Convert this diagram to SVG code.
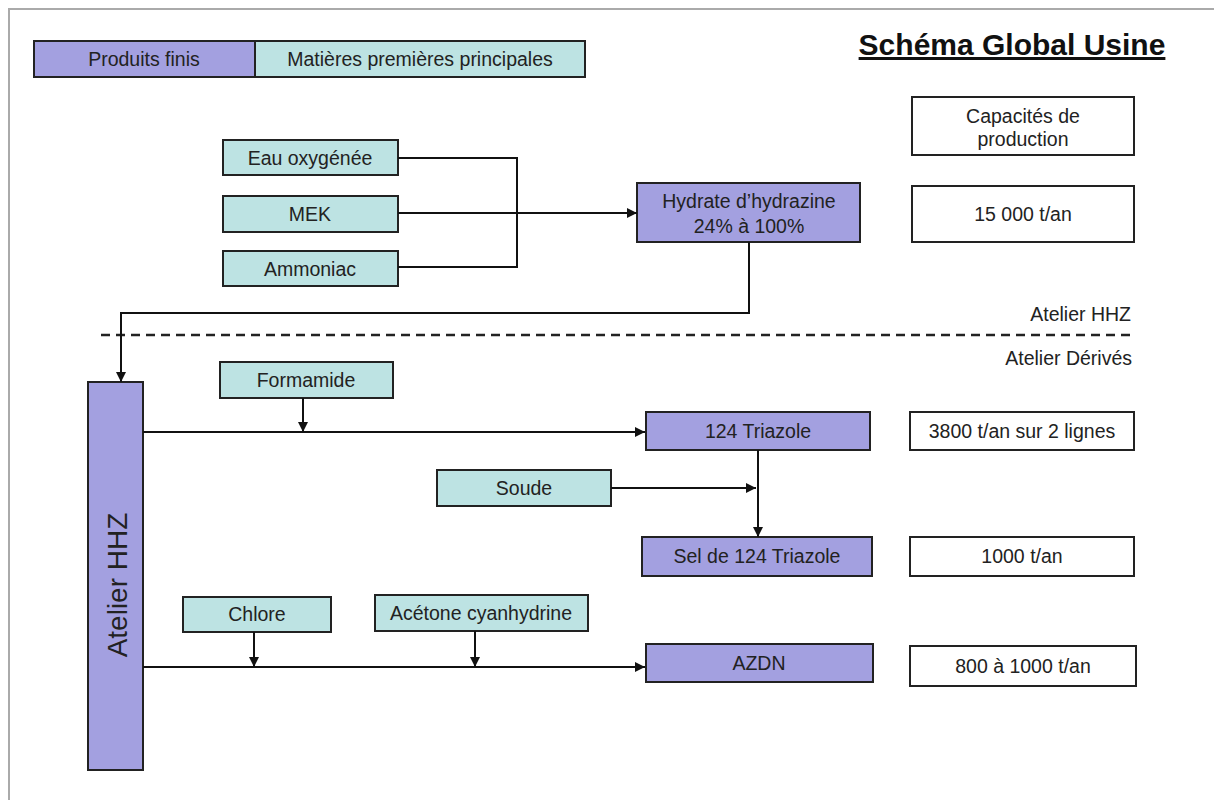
<svg xmlns="http://www.w3.org/2000/svg" width="1214" height="800" viewBox="0 0 1214 800">
<style>
  .prod { fill: #a3a0e0; stroke: #222; stroke-width: 2; }
  .mat { fill: #bde3e3; stroke: #222; stroke-width: 2; }
  .cap { fill: #ffffff; stroke: #222; stroke-width: 2; }
  .lbl { font-family: "Liberation Sans", Arial, sans-serif; font-size: 19.5px; fill: #222; text-anchor: middle; }
  .side { font-family: "Liberation Sans", Arial, sans-serif; font-size: 19.5px; fill: #222; text-anchor: end; }
  .conn { fill: none; stroke: #111; stroke-width: 2; }
</style>
<defs>
  <marker id="arr" viewBox="0 0 10 10" refX="10" refY="5" markerWidth="10" markerHeight="10" markerUnits="userSpaceOnUse" orient="auto">
    <path d="M0,0 L10,5 L0,10 z" fill="#111"/>
  </marker>
</defs>
<rect width="1214" height="800" fill="#ffffff"/>
<!-- frame -->
<path d="M9,800 V9 H1214" fill="none" stroke="#aaa" stroke-width="2"/>

<!-- legend -->
<g id="legend-produits">
  <rect class="prod" x="34" y="41" width="221" height="36"/>
  <text class="lbl" x="144" y="66">Produits finis</text>
</g>
<g id="legend-matieres">
  <rect class="mat" x="255" y="41" width="330" height="36"/>
  <text class="lbl" x="420" y="66">Matières premières principales</text>
</g>

<!-- title -->
<text id="title" x="1012" y="55" font-family="Liberation Sans, Arial, sans-serif" font-size="30" font-weight="bold" text-anchor="middle" text-decoration="underline" fill="#111">Schéma Global Usine</text>

<!-- capacity header -->
<g id="cap-header">
  <rect class="cap" x="912" y="97" width="222" height="58"/>
  <text class="lbl" x="1023" y="123">Capacités de</text>
  <text class="lbl" x="1023" y="146">production</text>
</g>
<g id="cap-hhz">
  <rect class="cap" x="912" y="186" width="222" height="56"/>
  <text class="lbl" x="1023" y="221">15 000 t/an</text>
</g>

<!-- raw materials HHZ -->
<g id="eau">
  <rect class="mat" x="223" y="140" width="175" height="35"/>
  <text class="lbl" x="310" y="165">Eau oxygénée</text>
</g>
<g id="mek">
  <rect class="mat" x="223" y="196" width="175" height="36"/>
  <text class="lbl" x="310" y="221">MEK</text>
</g>
<g id="ammoniac">
  <rect class="mat" x="223" y="251" width="175" height="35"/>
  <text class="lbl" x="310" y="276">Ammoniac</text>
</g>
<g id="hydrate">
  <rect class="prod" x="637" y="183" width="223" height="59"/>
  <text class="lbl" x="749" y="208">Hydrate d’hydrazine</text>
  <text class="lbl" x="749" y="233">24% à 100%</text>
</g>

<!-- section labels -->
<text class="side" x="1131" y="321">Atelier HHZ</text>
<line x1="101" y1="335" x2="1133" y2="335" stroke="#222" stroke-width="2.5" stroke-dasharray="9,6"/>
<text class="side" x="1132" y="365">Atelier Dérivés</text>

<!-- Atelier HHZ vertical -->
<g id="atelier-hhz">
  <rect class="prod" x="88" y="382" width="55" height="388"/>
  <text transform="translate(127,585) rotate(-90)" x="0" y="0" font-family="Liberation Sans, Arial, sans-serif" font-size="28" text-anchor="middle" fill="#222">Atelier HHZ</text>
</g>

<g id="formamide">
  <rect class="mat" x="220" y="362" width="173" height="36"/>
  <text class="lbl" x="306" y="387">Formamide</text>
</g>
<g id="triazole">
  <rect class="prod" x="646" y="412" width="224" height="38"/>
  <text class="lbl" x="758" y="438">124 Triazole</text>
</g>
<g id="cap-triazole">
  <rect class="cap" x="910" y="412" width="224" height="38"/>
  <text class="lbl" x="1022" y="438">3800 t/an sur 2 lignes</text>
</g>
<g id="soude">
  <rect class="mat" x="437" y="470" width="174" height="36"/>
  <text class="lbl" x="524" y="495">Soude</text>
</g>
<g id="sel">
  <rect class="prod" x="642" y="537" width="230" height="39"/>
  <text class="lbl" x="757" y="563">Sel de 124 Triazole</text>
</g>
<g id="cap-sel">
  <rect class="cap" x="910" y="537" width="224" height="39"/>
  <text class="lbl" x="1022" y="563">1000 t/an</text>
</g>
<g id="chlore">
  <rect class="mat" x="183" y="597" width="148" height="35"/>
  <text class="lbl" x="257" y="621">Chlore</text>
</g>
<g id="acetone">
  <rect class="mat" x="375" y="595" width="213" height="36"/>
  <text class="lbl" x="481" y="620">Acétone cyanhydrine</text>
</g>
<g id="azdn">
  <rect class="prod" x="646" y="644" width="227" height="38"/>
  <text class="lbl" x="759" y="670">AZDN</text>
</g>
<g id="cap-azdn">
  <rect class="cap" x="910" y="646" width="226" height="40"/>
  <text class="lbl" x="1023" y="673">800 à 1000 t/an</text>
</g>

<!-- connectors -->
<g id="connectors">
  <path class="conn" d="M398,158 H517 V267 H398"/>
  <path class="conn" d="M398,213 H637" marker-end="url(#arr)"/>
  <path class="conn" d="M749,242 V313 H121 V382" marker-end="url(#arr)"/>
  <path class="conn" d="M143,432 H645" marker-end="url(#arr)"/>
  <path class="conn" d="M303,398 V432" marker-end="url(#arr)"/>
  <path class="conn" d="M611,488 H756" marker-end="url(#arr)"/>
  <path class="conn" d="M758,450 V537" marker-end="url(#arr)"/>
  <path class="conn" d="M143,667 H645" marker-end="url(#arr)"/>
  <path class="conn" d="M254,632 V667" marker-end="url(#arr)"/>
  <path class="conn" d="M475,631 V667" marker-end="url(#arr)"/>
</g>
</svg>
